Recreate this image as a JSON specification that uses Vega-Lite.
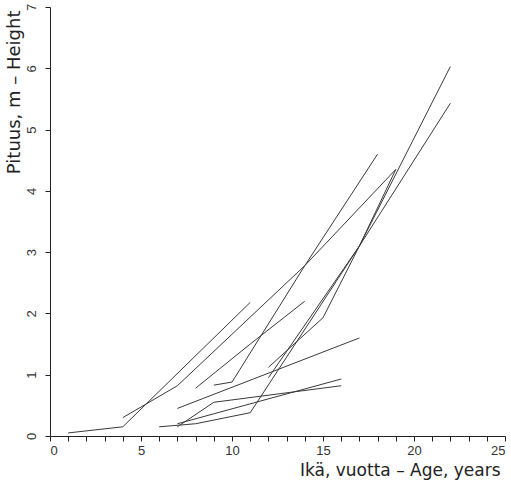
{
  "$schema": "https://vega.github.io/schema/vega-lite/v6.json",
  "autosize": "none",
  "width": 455,
  "height": 429,
  "padding": {"left": 50, "top": 7, "right": 6, "bottom": 44},
  "background": "white",
  "config": {
    "view": {"stroke": null},
    "font": "Liberation Sans",
    "axis": {
      "grid": false,
      "domainColor": "#222",
      "tickColor": "#222",
      "tickSize": 5,
      "labelColor": "#333",
      "labelFontSize": 13,
      "labelFont": "Liberation Sans",
      "titleFont": "DejaVu Sans",
      "titleFontWeight": "normal",
      "titleColor": "#222",
      "titleFontSize": 18
    }
  },
  "data": {
    "values": [
      {"id": 1, "age": 1, "h": 0.05}, {"id": 1, "age": 4, "h": 0.15}, {"id": 1, "age": 11, "h": 2.18},
      {"id": 2, "age": 4, "h": 0.3}, {"id": 2, "age": 7, "h": 0.82}, {"id": 2, "age": 14, "h": 2.78}, {"id": 2, "age": 19, "h": 4.35},
      {"id": 3, "age": 6, "h": 0.15}, {"id": 3, "age": 8, "h": 0.2}, {"id": 3, "age": 11, "h": 0.38}, {"id": 3, "age": 17, "h": 3.1}, {"id": 3, "age": 22, "h": 5.43},
      {"id": 4, "age": 7, "h": 0.15}, {"id": 4, "age": 9, "h": 0.55}, {"id": 4, "age": 16, "h": 0.82},
      {"id": 5, "age": 7, "h": 0.2}, {"id": 5, "age": 16, "h": 0.93},
      {"id": 6, "age": 7, "h": 0.45}, {"id": 6, "age": 17, "h": 1.6},
      {"id": 7, "age": 8, "h": 0.78}, {"id": 7, "age": 11, "h": 1.5}, {"id": 7, "age": 14, "h": 2.2},
      {"id": 8, "age": 9, "h": 0.83}, {"id": 8, "age": 10, "h": 0.88}, {"id": 8, "age": 14, "h": 2.78}, {"id": 8, "age": 18, "h": 4.6},
      {"id": 9, "age": 12, "h": 1.12}, {"id": 9, "age": 15, "h": 1.93}, {"id": 9, "age": 17, "h": 3.1}, {"id": 9, "age": 19, "h": 4.35},
      {"id": 10, "age": 12, "h": 0.95}, {"id": 10, "age": 17, "h": 3.1}, {"id": 10, "age": 22, "h": 6.03}
    ]
  },
  "mark": {"type": "line", "color": "#3a3a3a", "strokeWidth": 1},
  "encoding": {
    "detail": {"field": "id", "type": "nominal"},
    "x": {
      "field": "age", "type": "quantitative",
      "scale": {"domain": [0, 25], "nice": false, "zero": false},
      "axis": {
        "values": [0,1,2,3,4,5,6,7,8,9,10,11,12,13,14,15,16,17,18,19,20,21,22,23,24,25],
        "labelExpr": "datum.value % 5 === 0 ? datum.label : ''",
        "labelPadding": 3,
        "title": "Ikä, vuotta – Age, years",
        "titleX": 450,
        "titleY": 34,
        "titleFontSize": 17,
        "titleAlign": "right",
        "titleBaseline": "middle"
      }
    },
    "y": {
      "field": "h", "type": "quantitative",
      "scale": {"domain": [0, 7], "nice": false},
      "axis": {
        "values": [0,1,2,3,4,5,6,7],
        "labelAngle": 270,
        "labelAlign": "center",
        "labelBaseline": "middle",
        "labelPadding": 14,
        "title": "Pituus, m – Height",
        "titleAngle": 270,
        "titleX": -36,
        "titleY": 3,
        "titleAlign": "right",
        "titleBaseline": "middle"
      }
    }
  }
}
